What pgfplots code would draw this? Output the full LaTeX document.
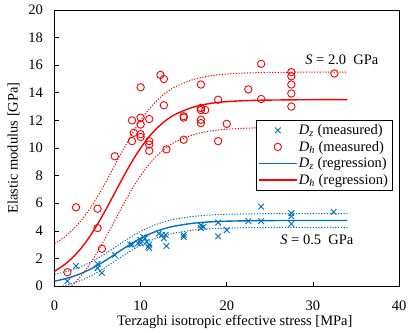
\documentclass[border=0pt]{standalone}
\usepackage{fontspec}
\setmainfont{Liberation Serif}
\usepackage{pgfplots}
\pgfplotsset{compat=1.18}

\definecolor{zblue}{RGB}{0,112,192}
\definecolor{hred}{RGB}{255,0,0}
\newcommand{\Dz}{\textit{D}\textsubscript{\textit{z}}}
\newcommand{\Dh}{\textit{D}\textsubscript{\textit{h}}}

\begin{document}
\begin{tikzpicture}[font=\fontsize{14.5}{17}\selectfont]
\begin{axis}[
  scale only axis, width=344.5pt, height=276pt,
  xmin=0, xmax=40, ymin=0, ymax=20,
  xtick={0,10,20,30,40}, ytick={0,2,...,20},
  tick align=inside, xtick pos=bottom, ytick pos=left,
  major tick length=4pt,
  tick style={black, line width=0.6pt},
  axis line style={line width=0.8pt},
  /pgf/number format/assume math mode=true,
  xticklabel style={yshift=-11pt},
  yticklabel style={xshift=-8pt},
  every axis x label/.style={at={(axis description cs:0.5,0)},yshift=-36pt,xshift=8pt,anchor=center},
  every axis y label/.style={at={(axis description cs:0,0.5)},xshift=-41pt,rotate=90,anchor=center},
  xlabel={Terzaghi isotropic effective stress [MPa]},
  ylabel={Elastic modulus [GPa]},
  legend cell align=left,
  legend style={at={(0.98,0.60)}, anchor=north east, draw=black,
    row sep=1pt, inner sep=2pt},
  legend image code/.code={\draw[mark repeat=2,mark phase=2,#1] plot coordinates {(0cm,0cm) (0.65cm,0cm) (1.3cm,0cm)};},
]
% measured D_z
\addplot[only marks, mark=x, mark size=4pt, zblue, line width=0.9pt] coordinates {
 (1.5,0.35) (2.5,1.45) (5.0,1.6) (5.0,1.3) (5.5,0.95) (7.0,2.25)
 (8.8,3.0) (9.0,3.0) (9.7,3.1) (10.0,3.35) (10.0,3.1) (10.3,3.55) (10.5,3.45)
 (10.7,3.2) (10.9,2.85) (11.0,2.75) (11.0,3.0) (12.1,3.8) (12.5,3.7) (12.7,3.45)
 (12.9,3.7) (13.0,2.9) (15.0,3.7) (15.0,3.55) (17.0,4.4) (17.0,4.2) (17.3,4.3)
 (19.0,4.6) (19.0,3.6) (20.0,4.05) (22.5,4.7) (24.0,4.7) (24.0,5.75)
 (27.5,5.27) (27.5,5.05) (27.5,4.5) (32.4,5.37)
};
% measured D_h
\addplot[only marks, mark=o, mark size=3.7pt, hred, line width=0.9pt] coordinates {
 (1.5,1.0) (2.5,5.7) (5.0,5.6) (5.0,4.2) (5.5,2.7) (7.0,9.4)
 (9.0,10.5) (9.2,11.1) (9.0,12.0) (10.0,10.8) (10.0,11.0) (10.0,11.7) (10.0,12.2) (10.0,14.4)
 (11.0,12.1) (11.0,10.5) (11.0,10.25) (11.0,9.8) (12.3,15.3) (12.7,15.0) (12.7,13.1) (13.0,9.9)
 (15.0,12.3) (15.0,12.2) (15.0,10.6) (17.0,14.6) (17.0,12.9) (17.5,12.75) (17.0,12.75)
 (17.0,12.05) (17.0,11.8) (19.0,13.5) (19.0,10.5) (20.0,11.75) (22.5,14.25)
 (24.0,16.1) (24.0,13.55) (27.5,15.5) (27.5,15.2) (27.5,14.6) (27.5,13.95) (27.5,13.0) (32.5,15.4)
};
% regression D_z
\addplot[zblue, line width=1.4pt, smooth] coordinates {
 (0,0.354) (1,0.487) (2,0.662) (3,0.888) (4,1.169) (5,1.503) (6,1.883) (7,2.292)
 (8,2.705) (9,3.099) (10,3.454) (11,3.756) (12,4.004) (13,4.199) (14,4.347)
 (16,4.541) (18,4.644) (20,4.697) (23,4.731) (26,4.744) (30,4.749) (34,4.75)
};
% regression D_h
\addplot[hred, line width=1.4pt, smooth] coordinates {
 (0,1.072) (1,1.473) (2,1.999) (3,2.671) (4,3.499) (5,4.479) (6,5.581) (7,6.75)
 (8,7.918) (9,9.02) (10,10.0) (11,10.83) (12,11.5) (13,12.03) (14,12.43)
 (16,12.94) (18,13.22) (20,13.36) (23,13.45) (26,13.48) (30,13.5) (34,13.5)
};
\legend{\Dz\ (measured), \Dh\ (measured), \Dz\ (regression), \Dh\ (regression)}
% bounds D_z (+/- 0.5)
\addplot[zblue, line width=1pt, dash pattern=on 1.2pt off 1.6pt, smooth, forget plot] coordinates {
 (0,0.854) (1,0.987) (2,1.162) (3,1.388) (4,1.669) (5,2.003) (6,2.383) (7,2.792)
 (8,3.205) (9,3.599) (10,3.954) (11,4.256) (12,4.504) (13,4.699) (14,4.847)
 (16,5.041) (18,5.144) (20,5.197) (23,5.231) (26,5.244) (30,5.249) (34,5.25)
};
\addplot[zblue, line width=1pt, dash pattern=on 1.2pt off 1.6pt, smooth, forget plot] coordinates {
 (0.95,0) (2,0.162) (3,0.388) (4,0.669) (5,1.003) (6,1.383) (7,1.792)
 (8,2.205) (9,2.599) (10,2.954) (11,3.256) (12,3.504) (13,3.699) (14,3.847)
 (16,4.041) (18,4.144) (20,4.197) (23,4.231) (26,4.244) (30,4.249) (34,4.25)
};
% bounds D_h (+/- 2.0)
\addplot[hred, line width=1pt, dash pattern=on 1.2pt off 1.6pt, smooth, forget plot] coordinates {
 (0,3.072) (1,3.473) (2,3.999) (3,4.671) (4,5.499) (5,6.479) (6,7.581) (7,8.75)
 (8,9.918) (9,11.02) (10,12.0) (11,12.83) (12,13.5) (13,14.03) (14,14.43)
 (16,14.94) (18,15.22) (20,15.36) (23,15.45) (26,15.48) (30,15.5) (34,15.5)
};
\addplot[hred, line width=1pt, dash pattern=on 1.2pt off 1.6pt, smooth, forget plot] coordinates {
 (2,0) (3,0.671) (4,1.499) (5,2.479) (6,3.581) (7,4.75)
 (8,5.918) (9,7.02) (10,8.0) (11,8.83) (12,9.5) (13,10.03) (14,10.43)
 (16,10.94) (18,11.22) (20,11.36) (23,11.45) (26,11.48) (30,11.5) (34,11.5)
};
\node[anchor=west, inner sep=0pt] at (axis cs:29.1,16.4) {\textit{S} = 2.0~~GPa};
\node[anchor=west, inner sep=0pt] at (axis cs:26.2,3.33) {\textit{S} = 0.5~~GPa};
\end{axis}
\path ([xshift=-54.5pt,yshift=-46pt]current axis.south west) rectangle ([xshift=16pt,yshift=10pt]current axis.north east);
\end{tikzpicture}
\end{document}
